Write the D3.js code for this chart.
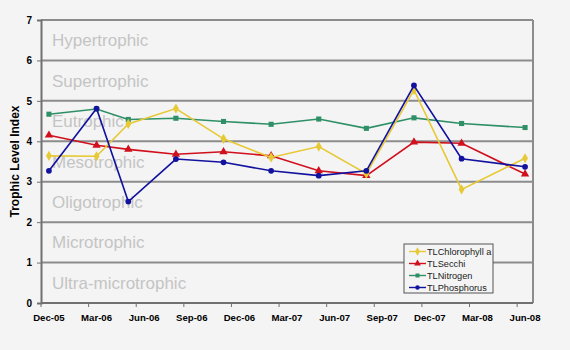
<!DOCTYPE html>
<html>
<head>
<meta charset="utf-8">
<script src="https://cdn.jsdelivr.net/npm/d3@7"></script>
<style>
  html, body { margin: 0; padding: 0; background: #f4f4f4; }
  svg { display: block; font-family: Arial, "Liberation Sans", sans-serif; }
</style>
</head>
<body>
<svg id="chart" width="570" height="350"></svg>
<script>
// Sampling months (year-month)
const sampleMonths = ["2005-12", "2006-03", "2006-05", "2006-08", "2006-11", "2007-02",
                      "2007-05", "2007-08", "2007-11", "2008-02", "2008-06"];

const chlorophyll = [3.64, 3.63, 4.43, 4.81, 4.06, 3.60, 3.87, 3.20, 5.27, 2.81, 3.58];
const secchi      = [4.15, 3.90, 3.80, 3.68, 3.74, 3.64, 3.27, 3.15, 3.98, 3.95, 3.19];
const nitrogen    = [4.67, 4.80, 4.54, 4.57, 4.49, 4.42, 4.55, 4.32, 4.58, 4.44, 4.34];
const phosphorus  = [3.27, 4.81, 2.51, 3.56, 3.48, 3.27, 3.15, 3.27, 5.38, 3.57, 3.37];

const seriesNames = ["TLChlorophyll a", "TLSecchi", "TLNitrogen", "TLPhosphorus"];
const seriesColors = ["#e6c935", "#d0101c", "#2f8f66", "#12129e"];
const seriesMarkers = ["diamond", "triangle", "square", "circle"];

const yTicks = [0, 1, 2, 3, 4, 5, 6, 7];
const trophicBands = ["Ultra-microtrophic", "Microtrophic", "Oligotrophic", "Mesotrophic",
                      "Eutrophic", "Supertrophic", "Hypertrophic"];
const tickLabels = ["Dec-05", "Mar-06", "Jun-06", "Sep-06", "Dec-06", "Mar-07",
                    "Jun-07", "Sep-07", "Dec-07", "Mar-08", "Jun-08"];

const svg = d3.select("#chart");
const margin = { left: 41, right: 37, top: 20, bottom: 47 };
const W = 570, H = 350;
const FONT = "Arial, 'Liberation Sans', sans-serif";

const parseMonth = d3.timeParse("%Y-%m");
const start = parseMonth("2005-12");
const end = d3.timeMonth.offset(parseMonth("2008-06"), 1);

// Month-slot scale: each month occupies one equal-width slot
const nMonths = d3.timeMonth.count(start, end);
const slot = d3.scaleLinear().domain([0, nMonths]).range([margin.left, W - margin.right]);
const xMonth = d => slot(d3.timeMonth.count(start, d));
const xCenter = d => slot(d3.timeMonth.count(start, d) + 0.5);

const y = d3.scaleLinear().domain([0, 7]).range([H - margin.bottom, margin.top]);

// plot background
svg.append("rect")
  .attr("x", margin.left).attr("y", margin.top)
  .attr("width", W - margin.left - margin.right)
  .attr("height", H - margin.top - margin.bottom)
  .attr("fill", "#f4f4f4");

// horizontal gridlines
svg.append("g").selectAll("line")
  .data(yTicks.slice(1))
  .join("line")
  .attr("x1", margin.left).attr("x2", W - margin.right)
  .attr("y1", d => y(d)).attr("y2", d => y(d))
  .attr("stroke", "#8c8c8c").attr("stroke-width", 2);

// right border
svg.append("line")
  .attr("x1", W - margin.right).attr("x2", W - margin.right)
  .attr("y1", margin.top).attr("y2", H - margin.bottom)
  .attr("stroke", "#8c8c8c").attr("stroke-width", 2);

// trophic band labels
svg.append("g").selectAll("text")
  .data(trophicBands)
  .join("text")
  .attr("x", 52)
  .attr("y", (d, i) => y(i + 0.5))
  .attr("dy", "0.36em")
  .attr("font-size", 17)
  .attr("fill", "#c4c4c4")
  .text(d => d);

// y axis
const yAxis = d3.axisLeft(y).tickValues(yTicks).tickSize(4).tickPadding(5).tickFormat(d3.format("d"));
const gy = svg.append("g").attr("transform", `translate(${margin.left},0)`).call(yAxis);
gy.select(".domain").attr("stroke", "#707070").attr("stroke-width", 2);
gy.selectAll(".tick line").attr("stroke", "#707070");
gy.selectAll(".tick text").attr("font-size", 10).attr("font-weight", "bold").attr("fill", "#000")
  .attr("font-family", FONT);

// x axis: quarterly ticks at slot boundaries, labels centred in the first month slot
const tickDates = d3.timeMonth.range(start, end, 3);
const gx = svg.append("g").attr("transform", `translate(0,${H - margin.bottom})`);
gx.append("line")
  .attr("x1", margin.left).attr("x2", W - margin.right)
  .attr("stroke", "#707070").attr("stroke-width", 2);
gx.selectAll("line.tick")
  .data(tickDates)
  .join("line").attr("class", "tick")
  .attr("x1", d => xMonth(d)).attr("x2", d => xMonth(d))
  .attr("y1", 0).attr("y2", 4)
  .attr("stroke", "#707070");
gx.selectAll("text")
  .data(tickDates)
  .join("text")
  .attr("x", d => xCenter(d))
  .attr("y", 17.5)
  .attr("text-anchor", "middle")
  .attr("font-size", 9.6).attr("font-weight", "bold")
  .text((d, i) => tickLabels[i]);

// y axis title
svg.append("text")
  .attr("transform", `translate(18.5,${y(3.5)}) rotate(-90)`)
  .attr("text-anchor", "middle")
  .attr("font-size", 12).attr("font-weight", "bold")
  .text("Trophic Level Index");

// series
const dates = sampleMonths.map(parseMonth);
const allSeries = [chlorophyll, secchi, nitrogen, phosphorus];
const symbolFor = {
  diamond: d3.symbol().type(d3.symbolDiamond).size(30),
  triangle: d3.symbol().type(d3.symbolTriangle).size(30),
  square: d3.symbol().type(d3.symbolSquare).size(26),
  circle: d3.symbol().type(d3.symbolCircle).size(26)
};
const line = d3.line().x(d => xCenter(d.date)).y(d => y(d.v));

const drawOrder = [2, 1, 0, 3];
drawOrder.forEach(si => {
  const pts = dates.map((d, i) => ({ date: d, v: allSeries[si][i] }));
  const g = svg.append("g");
  g.append("path").datum(pts)
    .attr("d", line)
    .attr("fill", "none")
    .attr("stroke", seriesColors[si])
    .attr("stroke-width", 1.6);
  g.selectAll("path.m").data(pts).join("path").attr("class", "m")
    .attr("d", symbolFor[seriesMarkers[si]])
    .attr("transform", d => `translate(${xCenter(d.date)},${y(d.v)})`)
    .attr("fill", seriesColors[si]);
});

// legend
const lg = svg.append("g").attr("transform", "translate(404,244)");
lg.append("rect").attr("width", 89).attr("height", 49)
  .attr("fill", "#f4f4f4").attr("stroke", "#555").attr("stroke-width", 1);
const legendSymbol = {
  diamond: d3.symbol().type(d3.symbolDiamond).size(20),
  triangle: d3.symbol().type(d3.symbolTriangle).size(20),
  square: d3.symbol().type(d3.symbolSquare).size(16),
  circle: d3.symbol().type(d3.symbolCircle).size(16)
};
seriesNames.forEach((name, i) => {
  const row = lg.append("g").attr("transform", `translate(0,${7.5 + i * 12})`);
  row.append("line").attr("x1", 5).attr("x2", 22)
    .attr("stroke", seriesColors[i]).attr("stroke-width", 1.4);
  row.append("path").attr("d", legendSymbol[seriesMarkers[i]])
    .attr("transform", "translate(13.5,0)")
    .attr("fill", seriesColors[i]);
  row.append("text").attr("x", 23).attr("dy", "0.36em")
    .attr("font-size", 9.2).attr("fill", "#222").text(name);
});
</script>
</body>
</html>
